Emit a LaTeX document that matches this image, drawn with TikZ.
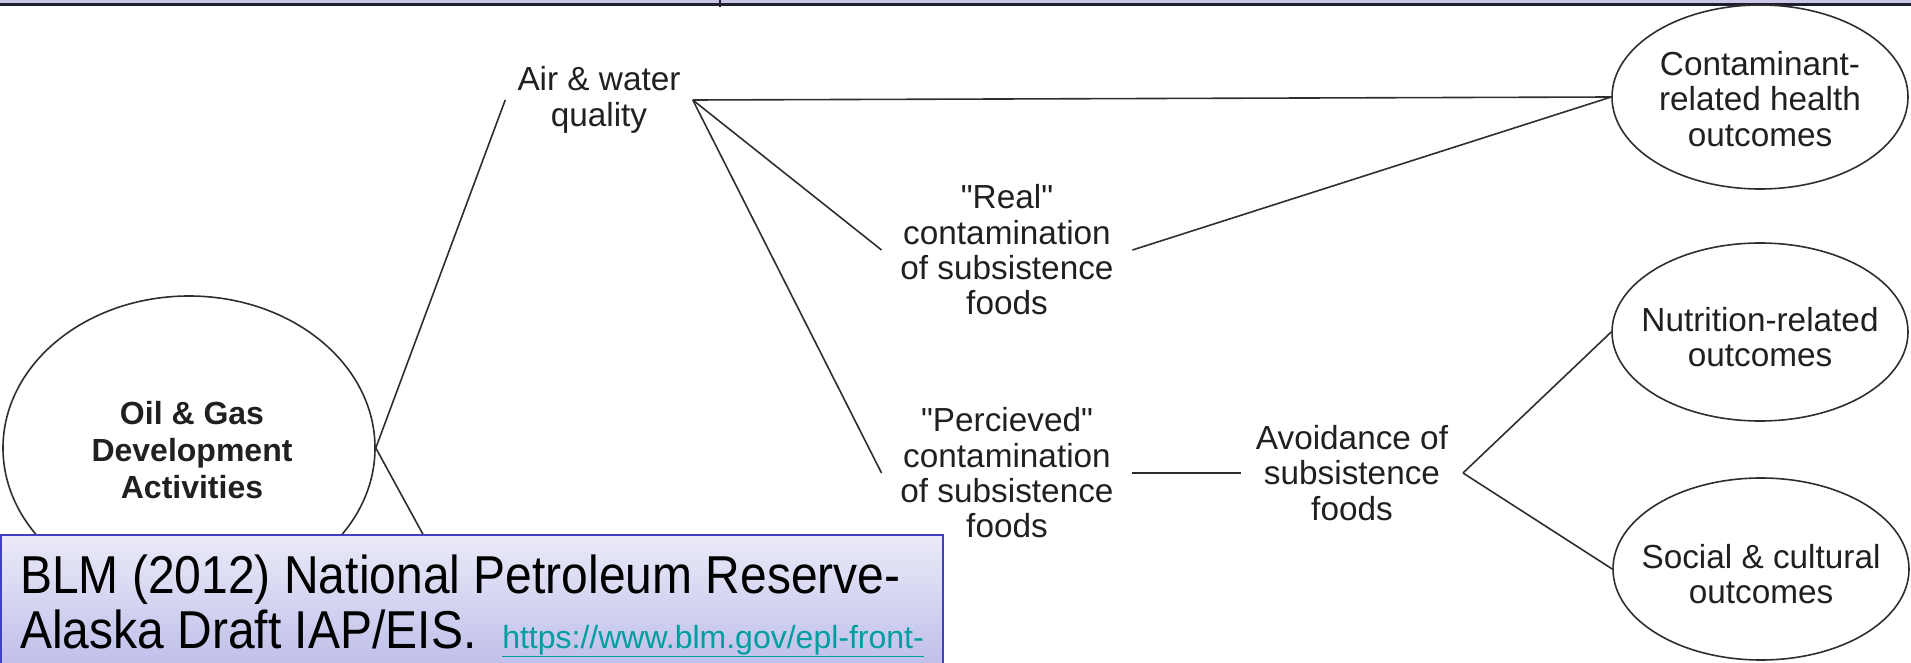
\documentclass[tikz,border=0pt]{standalone}
\usepackage{fontspec}
\usepackage{graphicx}
\setmainfont{Liberation Sans}
\newfontfamily\arialfont{Liberation Sans}
\usetikzlibrary{shapes.geometric}
\definecolor{linegray}{HTML}{2E2E2E}
\definecolor{txtcol}{HTML}{202020}
\definecolor{bandlav}{HTML}{C8C8E6}
\definecolor{banddark}{HTML}{1E1E2E}
\definecolor{captop}{HTML}{EAEAF8}
\definecolor{capbot}{HTML}{BDBDEA}
\definecolor{capblue}{HTML}{4040C0}
\definecolor{linkteal}{HTML}{009E9E}
\begin{document}
\begin{tikzpicture}[x=0.75pt,y=-0.75pt,
  conn/.style={draw=linegray,line width=1.2pt},
  oval/.style={ellipse,draw=linegray,line width=1.2pt,inner sep=0pt},
  lbl/.style={align=center,font=\arialfont\fontsize{25}{26.5}\selectfont,text=txtcol,inner ysep=2pt},
  captxt/.style={anchor=base west,inner sep=0pt,text=black}
]
\useasboundingbox (0,0) rectangle (1911,663);

% top band
\fill[bandlav] (0,0) rectangle (1911,3.5);
\draw[line width=1.8pt,draw=banddark] (0,4.5) -- (1911,4.5);
\draw[line width=1.2pt,draw=banddark] (720,0) -- (720,7);

% ellipse nodes
\node[oval,minimum width=279pt,minimum height=228pt] (oil) at (189,448) {};
\node[oval,minimum width=222pt,minimum height=138pt] (cont) at (1760,97) {};
\node[oval,minimum width=222pt,minimum height=133.5pt] (nutr) at (1760,332) {};
\node[oval,minimum width=222pt,minimum height=136.5pt] (soc) at (1761,569) {};

% ellipse labels
\node[lbl,font=\arialfont\fontsize{24}{27.5}\selectfont\bfseries] (oilt) at (192,450) {Oil \& Gas\\Development\\Activities};
\node[lbl] (contt) at (1760,99) {Contaminant-\\related health\\outcomes};
\node[lbl] (nutrt) at (1760,337) {Nutrition-related\\outcomes};
\node[lbl] (soct) at (1761,574) {Social \& cultural\\outcomes};

% text nodes
\node[lbl,inner xsep=9pt] (air) at (599,100) {Air \& water\\quality};
\node[lbl,inner xsep=14pt] (real) at (1007,250) {"Real"\\contamination\\of subsistence\\foods};
\node[lbl,inner xsep=14pt] (perc) at (1007,473) {"Percieved"\\contamination\\of subsistence\\foods};
\node[lbl,inner xsep=11pt] (avoid) at (1352,473) {Avoidance of\\subsistence\\foods};
\coordinate (hid) at (437,560);

% connectors
\draw[conn] (oil.east) -- (air.west);
\draw[conn] (oil.east) -- (hid);
\draw[conn] (air.east) -- (cont.west);
\draw[conn] (air.east) -- (real.west);
\draw[conn] (air.east) -- (perc.west);
\draw[conn] (real.east) -- (cont.west);
\draw[conn] (perc.east) -- (avoid.west);
\draw[conn] (avoid.east) -- (nutr.west);
\draw[conn] (avoid.east) -- (soc.west);

% caption box
\draw[draw=capblue,line width=1.5pt,top color=captop,bottom color=capbot] (1,535) rectangle (943,672);
\node[captxt,font=\fontsize{40}{48}\selectfont] (cap1) at (20,593) {\scalebox{0.9}[1]{BLM (2012) National Petroleum Reserve-}};
\node[captxt,font=\fontsize{40}{48}\selectfont] (cap2) at (20,648) {\scalebox{0.9}[1]{Alaska Draft IAP/EIS.}};
\node[captxt,font=\fontsize{24}{28}\selectfont,text=linkteal] (link) at (502,648) {\underline{https://www.blm.gov/epl-front-}};
\end{tikzpicture}
\end{document}
